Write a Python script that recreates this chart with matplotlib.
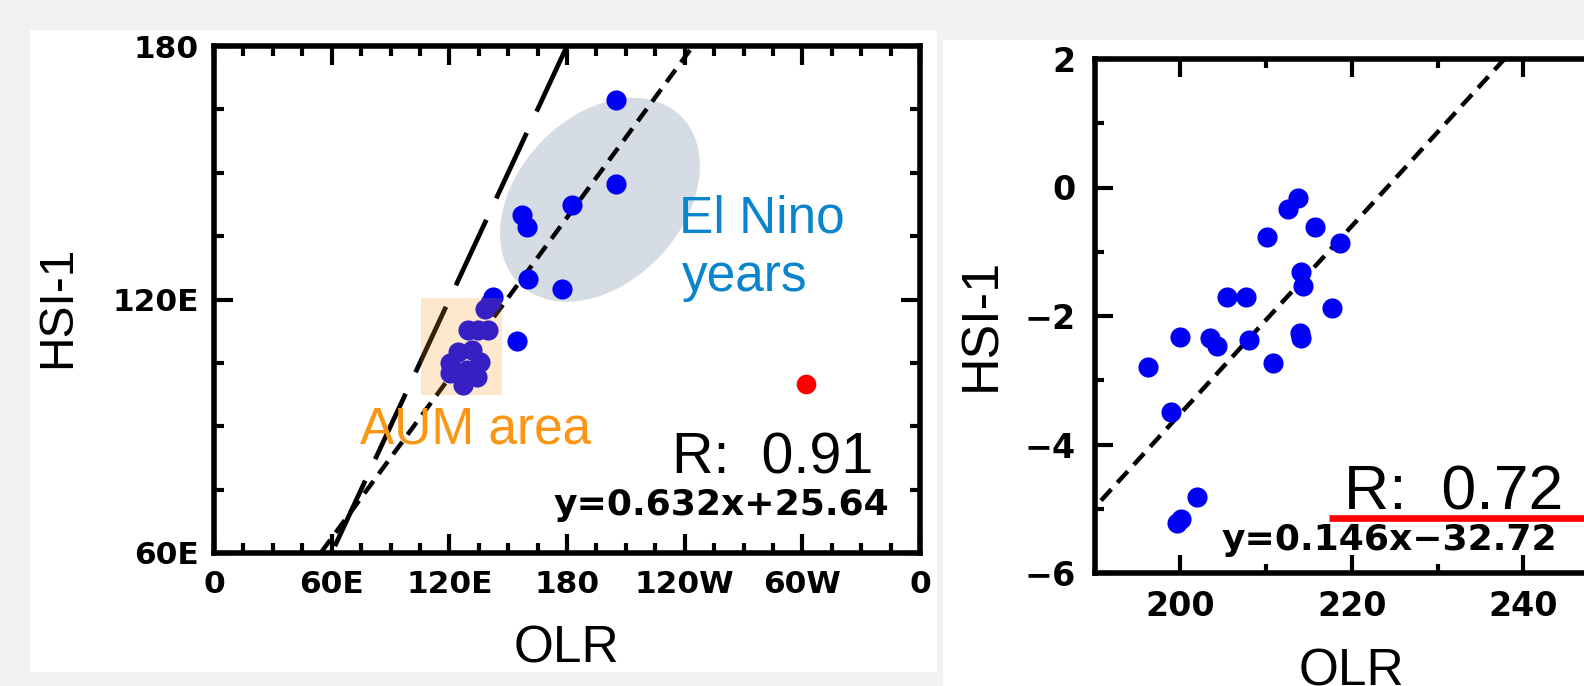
"""Two-panel OLR vs HSI-1 scatter comparison (AUM area / El Nino years)."""

import matplotlib

matplotlib.use("Agg")
import matplotlib.pyplot as plt
import matplotlib.transforms as mtransforms
from matplotlib.patches import Ellipse, Rectangle
from matplotlib.ticker import MultipleLocator

# ---------------------------------------------------------------------------
# Data
# ---------------------------------------------------------------------------
# Left panel: longitude of the OLR centre vs longitude of the HSI-1 centre.
LEFT_BLUE_X = [205.0, 205.0, 182.4, 157.2, 159.8, 160.0, 177.3, 142.4, 154.7,
               138.2, 140.7, 129.7, 134.8, 139.9,
               120.3, 124.6, 131.4, 135.6, 128.9, 120.3, 127.1, 133.9]
LEFT_BLUE_Y = [167.2, 147.3, 142.4, 140.0, 137.2, 124.9, 122.5, 120.7, 110.2,
               117.7, 119.1, 112.8, 112.8, 112.8,
               104.9, 107.6, 108.0, 105.3, 103.3, 102.5, 99.8, 101.7]
LEFT_RED_X = [302.0]
LEFT_RED_Y = [100.0]
LEFT_XTICKS = [0, 60, 120, 180, 240, 300, 360]
LEFT_XLABELS = ["0", "60E", "120E", "180", "120W", "60W", "0"]
LEFT_YTICKS = [60, 120, 180]
LEFT_YLABELS = ["60E", "120E", "180"]
LEFT_SLOPE, LEFT_INTERCEPT, LEFT_R = 0.632, 25.64, 0.91
ONE_TO_ONE = [180, 60]

# Right panel: OLR vs HSI-1 index.
RIGHT_X = [196.2, 199.9, 198.9, 199.6, 200.1, 201.9, 203.5, 204.3, 205.4, 207.6,
           208.0, 210.1, 210.8, 212.5, 213.7, 215.7, 218.6, 214.1, 214.3, 213.9,
           214.1, 217.7]
RIGHT_Y = [-2.80, -2.32, -3.50, -5.22, -5.16, -4.81, -2.34, -2.46, -1.71, -1.70,
           -2.38, -0.77, -2.73, -0.33, -0.16, -0.62, -0.87, -1.32, -1.54, -2.26,
           -2.34, -1.87]
RIGHT_XTICKS = [200, 220, 240, 260]
RIGHT_YTICKS = [-6, -4, -2, 0, 2]
RIGHT_SLOPE, RIGHT_INTERCEPT, RIGHT_R = 0.146, -32.72, 0.72

W, H = 1584, 686
BLUE = "#0000f2"
TEXT_FONT = "Liberation Sans"
TICK_FONT = "DejaVu Sans"


def _axes_rect(left, top, right, bottom):
    """Pixel box (y down) -> figure fraction rect."""
    return [left / W, 1 - bottom / H, (right - left) / W, (bottom - top) / H]


def _fig_text(fig, px, py, s, **kw):
    fig.text(px / W, 1 - py / H, s, **kw)


def _style_axes(ax, major_len, minor_len, label_size, xpad, ypad):
    for side in ax.spines.values():
        side.set_linewidth(4.0)
    ax.tick_params(which="both", direction="in", top=True, right=True,
                   width=3.0, color="black")
    ax.tick_params(which="major", length=major_len)
    ax.tick_params(which="minor", length=minor_len)
    ax.tick_params(axis="x", which="major", pad=xpad)
    ax.tick_params(axis="y", which="major", pad=ypad)
    for lab in ax.get_xticklabels() + ax.get_yticklabels():
        lab.set_fontfamily(TICK_FONT)
        lab.set_fontweight("bold")
        lab.set_fontsize(label_size)


def _left_panel(fig):
    ax = fig.add_axes(_axes_rect(214, 46, 920, 553))
    ax.set_facecolor("white")

    # El Nino ellipse, drawn in inches around a data-space centre
    trans = fig.dpi_scale_trans + mtransforms.ScaledTranslation(196.8, 143.6, ax.transData)
    ax.add_patch(Ellipse((0, 0), 2.33, 1.65, angle=46.7, transform=trans,
                         facecolor="#d6dce4", edgecolor="none", zorder=1))

    # 1:1 line and regression line
    ax.plot(ONE_TO_ONE, ONE_TO_ONE, color="black", lw=3.4,
            linestyle=(0, (52, 17)), zorder=2)
    fit_x = [40, 260]
    fit_y = [LEFT_SLOPE * v + LEFT_INTERCEPT for v in fit_x]
    ax.plot(fit_x, fit_y, color="black", lw=3.2, linestyle=(0, (11, 6.5)), zorder=2)

    ax.scatter(LEFT_BLUE_X, LEFT_BLUE_Y, s=210, color=BLUE, linewidths=0, zorder=3)
    ax.scatter(LEFT_RED_X, LEFT_RED_Y, s=200, color="#ff0000", linewidths=0, zorder=3)

    # AUM area box overlays the cluster
    ax.add_patch(Rectangle((105.6, 97.4), 41.1, 23.0, facecolor="#f7941d",
                           alpha=0.22, edgecolor="none", zorder=5))

    ax.set_xticks(LEFT_XTICKS, LEFT_XLABELS)
    ax.set_yticks(LEFT_YTICKS, LEFT_YLABELS)
    ax.xaxis.set_minor_locator(MultipleLocator(15))
    ax.yaxis.set_minor_locator(MultipleLocator(15))
    ax.set_xlim(0, 360)
    ax.set_ylim(60, 180)
    _style_axes(ax, 14, 7.5, 22.5, 12.5, 11)

    _fig_text(fig, 679, 232.5, "El Nino", family=TEXT_FONT, fontsize=37,
              color="#0a84cc", va="baseline")
    _fig_text(fig, 682, 291, "years", family=TEXT_FONT, fontsize=37,
              color="#0a84cc", va="baseline")
    _fig_text(fig, 360, 443.3, "AUM area", family=TEXT_FONT, fontsize=37,
              color="#fb9614", va="baseline")
    _fig_text(fig, 672, 473.3, f"R:  {LEFT_R:.2f}", family=TEXT_FONT,
              fontsize=41.3, va="baseline")
    _fig_text(fig, 554, 515, f"y={LEFT_SLOPE:.3f}x+{LEFT_INTERCEPT:.2f}",
              family=TICK_FONT, fontweight="bold", fontsize=26, va="baseline")
    _fig_text(fig, 566.5, 662.7, "OLR", family=TEXT_FONT, fontsize=37,
              ha="center", va="baseline")
    _fig_text(fig, 70, 307, "HSI-1", family=TEXT_FONT, fontsize=34.5, rotation=90,
              ha="center", va="baseline", rotation_mode="anchor")


def _right_panel(fig):
    ax = fig.add_axes(_axes_rect(1094.7, 59, 1608.9, 573))
    ax.set_facecolor("white")

    fit_x = [185, 255]
    fit_y = [RIGHT_SLOPE * v + RIGHT_INTERCEPT for v in fit_x]
    ax.plot(fit_x, fit_y, color="black", lw=3.2, linestyle=(0, (11, 6.5)), zorder=2)
    ax.scatter(RIGHT_X, RIGHT_Y, s=210, color=BLUE, linewidths=0, zorder=3)

    # red underline added on top of the panel
    ax.plot([217.3, 252], [-5.15, -5.15], color="#ff0000", lw=4.8,
            solid_capstyle="butt", zorder=6, clip_on=False)

    ax.set_xticks(RIGHT_XTICKS, [str(v) for v in RIGHT_XTICKS])
    ax.set_yticks(RIGHT_YTICKS, [str(v).replace("-", "\u2212") for v in RIGHT_YTICKS])
    ax.xaxis.set_minor_locator(MultipleLocator(10))
    ax.yaxis.set_minor_locator(MultipleLocator(1))
    ax.set_xlim(190, 250)
    ax.set_ylim(-6, 2)
    _style_axes(ax, 13, 6.5, 24, 12.5, 14)

    _fig_text(fig, 1344, 510, f"R:  {RIGHT_R:.2f}", family=TEXT_FONT,
              fontsize=45, va="baseline")
    _fig_text(fig, 1222, 550,
              f"y={RIGHT_SLOPE:.3f}x\u2212{abs(RIGHT_INTERCEPT):.2f}",
              family=TICK_FONT, fontweight="bold", fontsize=26, va="baseline")
    _fig_text(fig, 1351.7, 685, "OLR", family=TEXT_FONT, fontsize=37,
              ha="center", va="baseline")
    _fig_text(fig, 995, 324, "HSI-1", family=TEXT_FONT, fontsize=37.5,
              rotation=90, ha="center", va="baseline", rotation_mode="anchor")


def main():
    plt.rcParams["lines.scale_dashes"] = False
    fig = plt.figure(figsize=(W / 100, H / 100), dpi=100, facecolor="#f2f2f2")

    # white slide panels behind each chart
    fig.add_artist(Rectangle((30 / W, 1 - 672 / H), 907 / W, 642 / H,
                             transform=fig.transFigure, facecolor="white",
                             edgecolor="none", zorder=-5))
    fig.add_artist(Rectangle((943 / W, 0), 641 / W, 646 / H,
                             transform=fig.transFigure, facecolor="white",
                             edgecolor="none", zorder=-5))

    _left_panel(fig)
    _right_panel(fig)

    fig.savefig("out.png", dpi=100)
    plt.close(fig)


if __name__ == "__main__":
    main()
